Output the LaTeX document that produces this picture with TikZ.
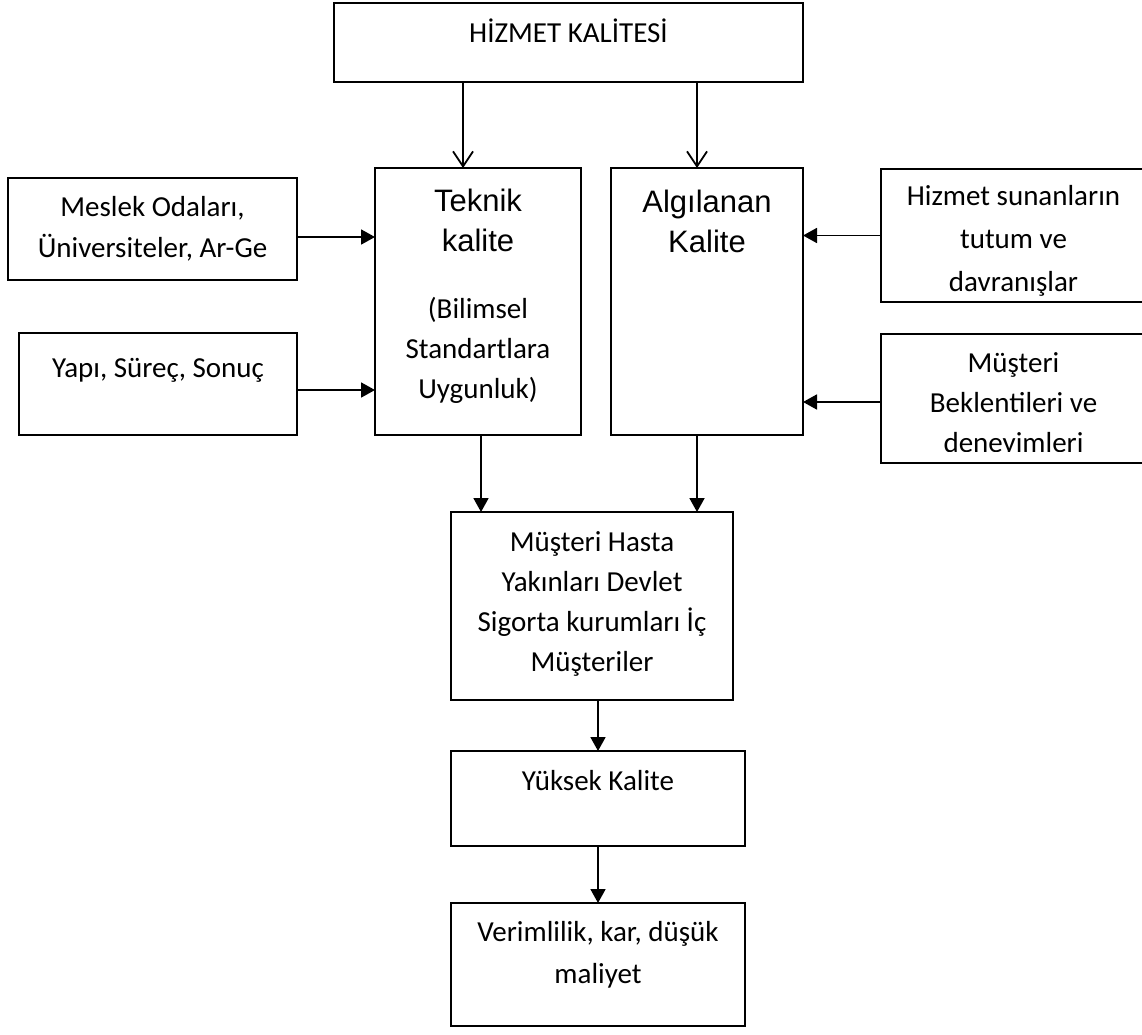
\documentclass[tikz,border=0pt]{standalone}
\usepackage{fontspec}
\setmainfont{Carlito}
\newfontfamily\arialf{Liberation Sans}
\usetikzlibrary{arrows.meta}
\newcommand\bodysize{\fontsize{29}{40}\selectfont}
\newcommand\headsans{\arialf\fontsize{31}{40}\selectfont}
\newcommand\lowpad[1]{\vrule width 0pt height 0pt depth #1}
\newcommand\toppad[1]{\vrule width 0pt height #1 depth 0pt}

\begin{document}
\begin{tikzpicture}[
  x=1pt, y=-1pt,
  line width=1.8pt,
  box/.style={draw, inner sep=0pt, outer sep=0pt, align=center, anchor=north west, font=\bodysize},
  arr/.style={-{Triangle[length=14pt,width=15pt]}},
  barb/.style={-{Straight Barb[length=15pt,width=20pt]}}
]
\useasboundingbox (0,0) rectangle (1142,1034);

\node[box, minimum width=469pt, minimum height=79pt] (hk) at (334,3) {HİZMET KALİTESİ\lowpad{24pt}};
\node[box, minimum width=289pt, minimum height=102pt] (meslek) at (8,178) {Meslek Odaları,\\[1pt]Üniversiteler, Ar-Ge};
\node[box, minimum width=278pt, minimum height=102pt] (yapi) at (19,333) {Yapı, Süreç, Sonuç\lowpad{32pt}};
\node[box, minimum width=206pt, minimum height=267pt] (teknik) at (375,168) {{\headsans Teknik}\\{\headsans kalite}\\[27pt](Bilimsel\\Standartlara\\Uygunluk)\lowpad{14.5pt}};
\node[box, minimum width=192pt, minimum height=267pt] (algi) at (611,168) {{\headsans Algılanan}\\{\headsans Kalite}\lowpad{161pt}};
\node[box, minimum width=265pt, minimum height=133pt] (sunan) at (881,169) {\toppad{30pt}Hizmet sunanların\\[3pt]tutum ve\\[3pt]davranışlar};
\node[box, minimum width=265pt, minimum height=129pt] (bekl) at (881,334) {\toppad{32pt}Müşteri\\Beklentileri ve\\deneyimleri};
\fill[white] (882,452) rectangle (1146,462.1);
\node[box, minimum width=282pt, minimum height=188pt] (musteri) at (451,512) {Müşteri Hasta\\Yakınları Devlet\\Sigorta kurumları İç\\Müşteriler\lowpad{8pt}};
\node[box, minimum width=294pt, minimum height=95pt] (yuksek) at (451,751) {Yüksek Kalite\lowpad{37pt}};
\node[box, minimum width=294pt, minimum height=123pt] (verim) at (451,903) {Verimlilik, kar, düşük\\[2pt]maliyet\lowpad{24pt}};

\draw[barb] ([xshift=-15pt]teknik.north |- hk.south) -- ([xshift=-15pt]teknik.north);
\draw[barb] ([xshift=-10pt]algi.north |- hk.south) -- ([xshift=-10pt]algi.north);
\draw[arr] ([yshift=-8pt]meslek.east) -- ([yshift=-8pt]meslek.east -| teknik.west);
\draw[arr] ([yshift=-6pt]yapi.east) -- ([yshift=-6pt]yapi.east -| teknik.west);
\draw[arr] (sunan.west) -- (sunan.west -| algi.east);
\draw[arr] ([yshift=-3.5pt]bekl.west) -- ([yshift=-3.5pt]bekl.west -| algi.east);
\draw[arr] ([xshift=3pt]teknik.south) -- ([xshift=3pt]teknik.south |- musteri.north);
\draw[arr] ([xshift=-10pt]algi.south) -- ([xshift=-10pt]algi.south |- musteri.north);
\draw[arr] (yuksek.north |- musteri.south) -- (yuksek.north);
\draw[arr] (yuksek.south) -- (verim.north);
\end{tikzpicture}
\end{document}
